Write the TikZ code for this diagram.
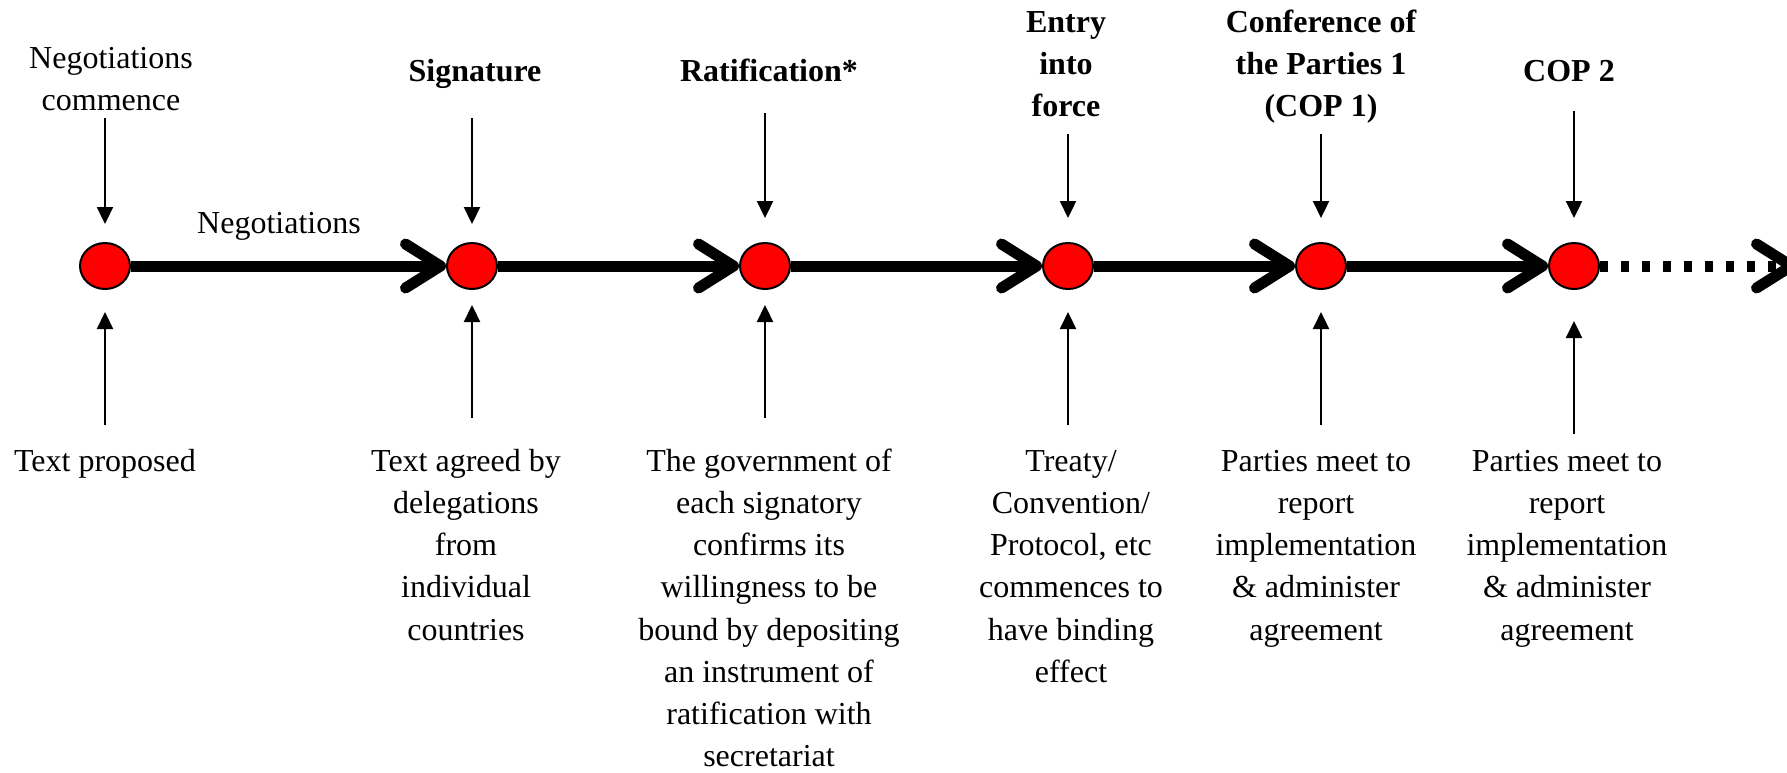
\documentclass[tikz,border=0pt]{standalone}
\usepackage{fontspec}
\setmainfont{Liberation Serif}
\usetikzlibrary{arrows.meta,shapes.geometric}
\newcommand\firstl{\rule{0pt}{24pt}}
\begin{document}
\begin{tikzpicture}[x=1pt,y=-1pt,
  dot/.style={ellipse, draw=black, line width=2pt, fill=red, minimum width=50pt, minimum height=46pt, inner sep=0pt},
  mainline/.style={line width=11pt, -{Straight Barb[length=35pt,width=44pt,round]}},
  thinarrow/.style={line width=2.3pt, -{Triangle[length=17pt,width=16pt]}},
  lbl/.style={font=\fontsize{32}{42.2}\selectfont, align=center, inner sep=0pt, anchor=north},
  hd/.style={lbl, font=\fontsize{32}{42.2}\selectfont\bfseries}]
\useasboundingbox (0,0) rectangle (1787,772);

% timeline points
\node[dot] (c1) at (105,266) {};
\node[dot] (c2) at (472,266) {};
\node[dot] (c3) at (765,266) {};
\node[dot] (c4) at (1068,266) {};
\node[dot] (c5) at (1321,266) {};
\node[dot] (c6) at (1574,266) {};
\coordinate (cend) at (1797,266);

% main connectors
\draw[mainline] (c1) -- (c2);
\draw[mainline] (c2) -- (c3);
\draw[mainline] (c3) -- (c4);
\draw[mainline] (c4) -- (c5);
\draw[mainline] (c5) -- (c6);
\draw[mainline, dash pattern=on 8pt off 13pt] (c6) -- (cend);

% top labels
\node[lbl] (t1) at (111,44) {\firstl Negotiations\\commence};
\node[hd] (t2) at (475,57) {\firstl Signature};
\node[hd] (t3) at (769,57) {\firstl Ratification*};
\node[hd] (t4) at (1066,8) {\firstl Entry\\into\\force};
\node[hd] (t5) at (1321,8) {\firstl Conference of\\the Parties 1\\(COP 1)};
\node[hd] (t6) at (1569,57) {\firstl COP 2};
\node[lbl] (neg) at (279,209) {\firstl Negotiations};

% bottom labels
\node[lbl] (b1) at (105,447) {\firstl Text proposed};
\node[lbl] (b2) at (466,447) {\firstl Text agreed by\\delegations\\from\\individual\\countries};
\node[lbl] (b3) at (769,447) {\firstl The government of\\each signatory\\confirms its\\willingness to be\\bound by depositing\\an instrument of\\ratification with\\secretariat};
\node[lbl] (b4) at (1071,447) {\firstl Treaty/\\Convention/\\Protocol, etc\\commences to\\have binding\\effect};
\node[lbl] (b5) at (1316,447) {\firstl Parties meet to\\report\\implementation\\\& administer\\agreement};
\node[lbl] (b6) at (1567,447) {\firstl Parties meet to\\report\\implementation\\\& administer\\agreement};

% arrow tails
\coordinate (u1) at (105,118);
\coordinate (u2) at (472,118);
\coordinate (u3) at (765,113);
\coordinate (u4) at (1068,134);
\coordinate (u5) at (1321,134);
\coordinate (u6) at (1574,111);
\coordinate (d1) at (105,425);
\coordinate (d2) at (472,418);
\coordinate (d3) at (765,418);
\coordinate (d4) at (1068,425);
\coordinate (d5) at (1321,425);
\coordinate (d6) at (1574,434);

% thin arrows from above
\draw[thinarrow, shorten >=18pt] (u1) -- (c1);
\draw[thinarrow, shorten >=18pt] (u2) -- (c2);
\draw[thinarrow, shorten >=24pt] (u3) -- (c3);
\draw[thinarrow, shorten >=24pt] (u4) -- (c4);
\draw[thinarrow, shorten >=24pt] (u5) -- (c5);
\draw[thinarrow, shorten >=24pt] (u6) -- (c6);
% thin arrows from below
\draw[thinarrow, shorten >=22pt] (d1) -- (c1);
\draw[thinarrow, shorten >=15pt] (d2) -- (c2);
\draw[thinarrow, shorten >=15pt] (d3) -- (c3);
\draw[thinarrow, shorten >=22pt] (d4) -- (c4);
\draw[thinarrow, shorten >=22pt] (d5) -- (c5);
\draw[thinarrow, shorten >=31pt] (d6) -- (c6);
\end{tikzpicture}
\end{document}
